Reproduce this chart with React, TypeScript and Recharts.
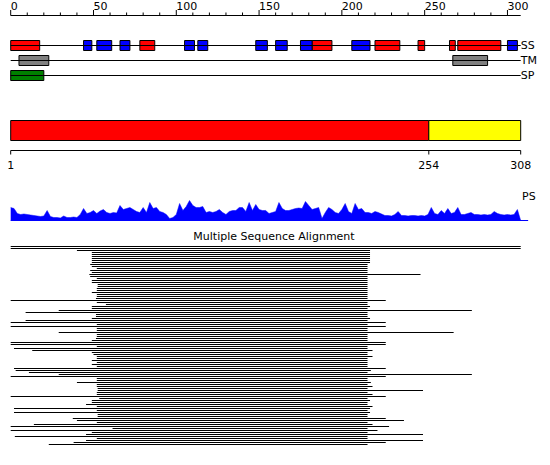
import React from "react";
import {
  Area,
  AreaChart,
  Bar,
  BarChart,
  ComposedChart,
  Line,
  ReferenceArea,
  ReferenceLine,
  XAxis,
  YAxis,
} from "recharts";

// sequence ruler (top)
const rulerTicks = [0, 10, 20, 30, 40, 50, 60, 70, 80, 90, 100, 110, 120, 130, 140, 150, 160, 170, 180, 190, 200, 210, 220, 230, 240, 250, 260, 270, 280, 290, 300];
const trackLabels = ["SS", "TM", "SP"];

// feature segments [start, end] in residues
const ssHelix = [[0, 17.5], [78, 87], [182, 194], [220, 235], [246, 250], [265, 268.5], [270, 296]];
const ssStrand = [[44, 49], [52, 61], [66, 72], [105, 111], [113, 119], [148, 155], [160, 167], [175, 182], [206, 217], [300, 306]];
const tmSegments = [[5, 23], [267, 288]];
const spSegments = [[0, 20]];

// domain bar
const domainSegments = [
  { from: 0, to: 252.5, color: "#ff0000" },
  { from: 252.5, to: 308, color: "#ffff00" },
];
const domainTickPos = [0, 252.5, 308];
const domainTickLabels = ["1", "254", "308"];

// PS profile, one value every 2 residues
const psValues = [
  13, 12, 7, 6, 6.5, 6, 5.5, 5, 4.5, 4, 4.5, 10, 4, 3, 3, 2.5, 4.5, 3, 3, 3.5,
  3, 6, 12, 7, 8, 10, 7, 9.5, 11, 8, 7, 8, 7.5, 15, 11, 12, 13, 11, 9, 8,
  13, 8, 18, 12, 13, 9, 8, 6, 2, 3, 6, 17, 10, 14, 20, 15, 13, 13, 14, 8,
  9, 8, 9, 11, 8, 6, 9, 10, 10, 13, 13, 9, 18, 10, 16, 11, 10, 10, 7, 8,
  9, 18, 12, 10, 10, 11, 12, 12.5, 12, 19, 15, 11, 12, 13, 2, 8, 13, 11, 8, 7,
  11, 17, 9, 7, 17, 11, 12, 8, 8, 7, 9, 8, 6.5, 5, 5, 4.5, 6, 9, 5, 5,
  4.5, 5, 5, 4.5, 5, 4.5, 6, 13, 7, 6, 10, 7, 12, 7, 8, 13, 6, 6, 7, 8,
  6, 6, 5.5, 6, 5.5, 6, 9, 7, 6, 5.5, 6, 5.5, 6, 11, 0,
];
const psData = psValues.map((v, i) => ({ pos: i < 154 ? i * 2 : 308, ps: v }));

// multiple sequence alignment rows: start / end residue
const msaStarts = [
  0, 0, 40, 49, 49, 49, 49, 49, 49, 48,
  49, 52, 48, 49, 47.5, 48, 52, 49, 49, 52.5,
  52.5, 52, 52, 49, 52, 52, 51.5, 0, 52, 57.5,
  49, 49, 29, 9, 51.5, 51.5, 49, 9, 0, 52,
  0, 52, 52, 29, 52, 52, 51.5, 49, 0, 0,
  52, 2, 13, 49, 50, 52, 52, 49, 52, 49,
  52, 2, 3, 11, 29, 0, 52, 52, 40, 52,
  52, 52.5, 52.5, 52, 52, 0, 53.5, 49, 49, 45.5,
  52, 2, 52, 2, 52.5, 52.5, 37.5, 40, 52, 14,
  0, 61.5, 0, 49, 45.5, 2.5, 52, 45.5, 38, 23,
];
const msaEnds = [
  308, 308, 217, 217, 217, 217, 217, 217, 217, 215.5,
  215.5, 215.5, 215.5, 215.5, 247.5, 215.5, 215.5, 215.5, 215.5, 215.5,
  215.5, 215.5, 215.5, 215.5, 215.5, 215.5, 215.5, 226.5, 215.5, 215.5,
  217, 215.5, 278.5, 215.5, 215.5, 215.5, 217, 215.5, 226.5, 215.5,
  226.5, 215.5, 215.5, 267.5, 215.5, 215.5, 215.5, 215.5, 226.5, 226.5,
  215.5, 215.5, 218.5, 215.5, 215.5, 218.5, 215.5, 215.5, 215.5, 215.5,
  215.5, 226.5, 217.5, 215.5, 278.5, 226.5, 215.5, 215.5, 217.5, 215.5,
  218.5, 215.5, 249, 215.5, 218.5, 226.5, 215.5, 217, 215.5, 215.5,
  218.5, 217, 215.5, 217, 215.5, 215.5, 226.5, 237.5, 215.5, 218.5,
  228.5, 215.5, 221.5, 215.5, 249, 215.5, 215.5, 249, 226.5, 215.5,
];
const msaRows = msaStarts.map((s, i) => ({ id: i, span: [s, msaEnds[i]] }));

// invisible anchor points so the axes get a scale
const trackAnchor = [{ pos: 0, row: 0 }, { pos: 308, row: 2 }];
const domainAnchor = [{ pos: 0, v: 2 }, { pos: 308, v: 2 }];

const font = "'DejaVu Sans', sans-serif";

function RulerTick(props: any) {
  const { x, y, payload } = props;
  const major = payload.value % 50 === 0;
  return (
    <g>
      <line x1={x} x2={x} y1={y} y2={y - (major ? 5.5 : 3)} stroke="#000" />
      {major && (
        <text x={x} y={y - 5.5} textAnchor="start" fontSize={11} fill="#000">
          {payload.value}
        </text>
      )}
    </g>
  );
}

const tracks = [
  { row: 0, segs: ssHelix, color: "#ff0000" },
  { row: 0, segs: ssStrand, color: "#0000ff" },
  { row: 1, segs: tmSegments, color: "#808080" },
  { row: 2, segs: spSegments, color: "#008000" },
];

export default function App() {
  return (
    <div style={{ position: "absolute", left: 0, top: 0, width: 550, height: 465, background: "#fff", fontFamily: font }}>
      <div style={{ position: "absolute", left: 0, top: 0 }}>
        <ComposedChart width={550} height={90.5} data={trackAnchor} margin={{ top: 0, right: 0, bottom: 0, left: 10.7 }}>
          <XAxis
            type="number"
            dataKey="pos"
            orientation="top"
            domain={[0, 308]}
            ticks={rulerTicks}
            interval={0}
            height={15.5}
            axisLine={{ stroke: "#000" }}
            tickLine={false}
            tickSize={0}
            tickMargin={0}
            tick={<RulerTick />}
            allowDataOverflow
          />
          <YAxis
            type="number"
            orientation="right"
            domain={[-2, 3]}
            reversed
            ticks={[0, 1, 2]}
            interval={0}
            tickFormatter={(v: number) => trackLabels[v]}
            width={29.3}
            axisLine={false}
            tickLine={false}
            tickSize={0}
            tickMargin={0}
            tick={{ fill: "#000", fontSize: 11 }}
            allowDataOverflow
          />
          <Line dataKey="row" stroke="none" dot={false} activeDot={false} isAnimationActive={false} />
          {trackLabels.map((_, r) => (
            <ReferenceLine key={r} segment={[{ x: 0, y: r }, { x: 308, y: r }]} stroke="#000" />
          ))}
          {tracks.flatMap((t, ti) =>
            t.segs.map(([s, e], i) => (
              <ReferenceArea
                key={`${ti}-${i}`}
                x1={s}
                x2={e}
                y1={t.row - 1 / 3}
                y2={t.row + 1 / 3}
                fill={t.color}
                fillOpacity={1}
                stroke="#000"
                strokeWidth={1}
              />
            ))
          )}
        </ComposedChart>
      </div>

      <div style={{ position: "absolute", left: 0, top: 110 }}>
        <ComposedChart width={550} height={72.5} data={domainAnchor} margin={{ top: 0.5, right: 29.3, bottom: 0, left: 10.7 }}>
          <XAxis
            type="number"
            dataKey="pos"
            domain={[0, 308]}
            ticks={domainTickPos}
            interval={0}
            tickFormatter={(_v: number, i: number) => domainTickLabels[i]}
            height={32}
            tickSize={4}
            tickMargin={7}
            stroke="#000"
            tick={{ fill: "#000", fontSize: 11 }}
          />
          <YAxis hide type="number" domain={[0, 4]} reversed />
          <Line dataKey="v" stroke="none" dot={false} activeDot={false} isAnimationActive={false} />
          {domainSegments.map((d, i) => (
            <ReferenceArea key={i} x1={d.from} x2={d.to} y1={1} y2={3} fill={d.color} fillOpacity={1} stroke="#000" strokeWidth={1} />
          ))}
        </ComposedChart>
      </div>

      <div style={{ position: "absolute", left: 0, top: 190 }}>
        <AreaChart width={550} height={31} data={psData} margin={{ top: 10.5, right: 29.3, bottom: 0.5, left: 10.7 }}>
          <XAxis hide type="number" dataKey="pos" domain={[0, 308]} />
          <YAxis hide type="number" domain={[0, 20]} />
          <Area type="linear" dataKey="ps" stroke="#0000ff" strokeWidth={0.5} fill="#0000ff" fillOpacity={1} isAnimationActive={false} />
          <ReferenceLine segment={[{ x: 0, y: 0 }, { x: 312.5, y: 0 }]} stroke="#0000ff" ifOverflow="visible" />
        </AreaChart>
      </div>
      <div style={{ position: "absolute", left: 522, top: 190, fontSize: 11, lineHeight: "13px" }}>PS</div>

      <div style={{ position: "absolute", left: 0, top: 230, width: 548, textAlign: "center", fontSize: 11, lineHeight: "13px" }}>
        Multiple Sequence Alignment
      </div>
      <div style={{ position: "absolute", left: 0, top: 244 }}>
        <BarChart layout="vertical" width={550} height={201} data={msaRows} margin={{ top: 1, right: 29.3, bottom: 0, left: 10.7 }} barCategoryGap={0}>
          <XAxis hide type="number" domain={[0, 308]} />
          <YAxis hide type="category" dataKey="id" />
          <Bar dataKey="span" fill="#000" barSize={1} isAnimationActive={false} />
        </BarChart>
      </div>
    </div>
  );
}
